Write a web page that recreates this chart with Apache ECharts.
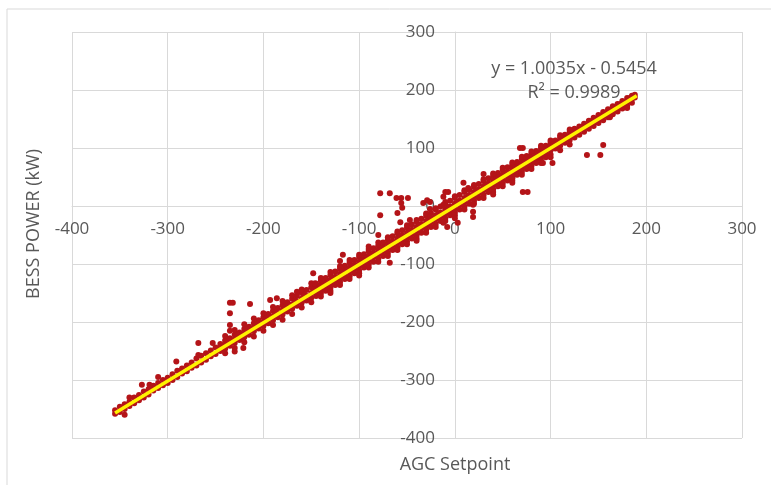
<!DOCTYPE html>
<html>
<head>
<meta charset="utf-8">
<script src="https://cdn.jsdelivr.net/npm/echarts@6/dist/echarts.min.js"></script>
<style>
html,body{margin:0;padding:0;background:#fff;}
#chart{width:771px;height:485px;}
</style>
</head>
<body>
<div id="chart"></div>
<script>
// ---- Data ----
var xTicks = [-400, -300, -200, -100, 0, 100, 200, 300];
var yTicks = [-400, -300, -200, -100, 0, 100, 200, 300];
var xTitle = 'AGC Setpoint';
var yTitle = 'BESS POWER (kW)';
var eqLine1 = 'y = 1.0035x - 0.5454';
var eqLine2 = 'R\u00B2 = 0.9989';

// main band of measured points [AGC setpoint, BESS power]
var bandLow = [
  [-355,-352],[-355,-358],[-350,-346],[-350,-355],[-345,-342],[-345,-350],[-340,-338],[-340,-345],
  [-335,-330],[-335,-340],[-330,-326],[-330,-335],[-325,-320],[-325,-330],[-320,-316],[-320,-325],
  [-315,-310],[-315,-318],[-310,-305],[-310,-314],[-305,-300],[-305,-309],[-300,-296],[-300,-305],
  [-295,-290],[-295,-300],[-290,-284],[-290,-295],[-285,-280],[-285,-289],[-280,-275],[-280,-285],
  [-275,-270],[-275,-279],[-270,-263],[-270,-275],[-265,-258],[-265,-270],[-260,-254],[-260,-265],
  [-255,-249],[-255,-259],[-250,-244],[-250,-255]
];
var bandMidLow = [
  [-245,-238],[-245,-244],[-245,-250],[-240,-232],[-240,-240],[-240,-246],[-235,-228],[-235,-236],[-235,-241],
  [-230,-222],[-230,-230],[-230,-236],[-225,-218],[-225,-226],[-225,-231],[-220,-212],[-220,-220],[-220,-226],
  [-215,-208],[-215,-215],[-215,-222],[-210,-202],[-210,-210],[-210,-216],[-205,-197],[-205,-205],[-205,-211],
  [-200,-192],[-200,-200],[-200,-207],[-195,-186],[-195,-195],[-195,-202],[-190,-181],[-190,-190],[-190,-197],
  [-185,-176],[-185,-185],[-185,-192],[-180,-171],[-180,-180],[-180,-187],[-175,-166],[-175,-175],[-175,-182],
  [-170,-160],[-170,-170],[-170,-177],[-165,-155],[-165,-165],[-165,-172],[-160,-150],[-160,-160],[-160,-167],
  [-155,-145],[-155,-155],[-155,-163],[-150,-140],[-150,-150],[-150,-158]
];
var bandCentre = [
  [-145,-134],[-145,-142],[-145,-149],[-145,-155],[-140,-129],[-140,-137],[-140,-144],[-140,-151],
  [-135,-124],[-135,-132],[-135,-139],[-135,-146],[-130,-119],[-130,-127],[-130,-134],[-130,-141],
  [-125,-113],[-125,-122],[-125,-129],[-125,-136],[-120,-108],[-120,-117],[-120,-124],[-120,-131],
  [-115,-103],[-115,-111],[-115,-119],[-115,-126],[-110,-98],[-110,-106],[-110,-113],[-110,-121],
  [-105,-93],[-105,-101],[-105,-108],[-105,-116],[-100,-88],[-100,-96],[-100,-103],[-100,-111],
  [-95,-83],[-95,-91],[-95,-98],[-95,-106],[-90,-78],[-90,-86],[-90,-93],[-90,-101],
  [-85,-73],[-85,-81],[-85,-88],[-85,-96],[-80,-68],[-80,-76],[-80,-83],[-80,-91],
  [-75,-63],[-75,-71],[-75,-78],[-75,-86],[-70,-58],[-70,-66],[-70,-73],[-70,-81],
  [-65,-52],[-65,-61],[-65,-68],[-65,-76],[-60,-47],[-60,-56],[-60,-63],[-60,-71],
  [-55,-42],[-55,-51],[-55,-58],[-55,-66],[-50,-37],[-50,-46],[-50,-53],[-50,-61],
  [-45,-32],[-45,-41],[-45,-48],[-45,-56],[-40,-27],[-40,-36],[-40,-43],[-40,-51],
  [-35,-22],[-35,-31],[-35,-38],[-35,-46],[-30,-17],[-30,-26],[-30,-33],[-30,-41],
  [-25,-12],[-25,-21],[-25,-28],[-25,-36],[-20,-6],[-20,-16],[-20,-23],[-20,-31],
  [-15,-1],[-15,-11],[-15,-18],[-15,-26],[-10,4],[-10,-6],[-10,-13],[-10,-21],
  [-5,9],[-5,-1],[-5,-8],[-5,-16],[0,14],[0,4],[0,-3],[0,-11],
  [5,19],[5,9],[5,2],[5,-6],[10,24],[10,14],[10,7],[10,-1],
  [15,28],[15,19],[15,12],[15,4],[20,33],[20,24],[20,17],[20,9],
  [25,38],[25,29],[25,22],[25,14],[30,43],[30,34],[30,27],[30,19],
  [35,48],[35,39],[35,32],[35,24],[40,52],[40,44],[40,37],[40,29],
  [45,57],[45,49],[45,42],[45,34],[50,62],[50,54],[50,47],[50,39],
  [55,67],[55,59],[55,52],[55,44],[60,71],[60,64],[60,56],[60,49],
  [65,76],[65,69],[65,61],[65,54],[70,81],[70,74],[70,66],[70,59],
  [75,86],[75,79],[75,71],[75,64],[80,90],[80,84],[80,76],[80,69],
  [85,95],[85,89],[85,81],[85,74],[90,100],[90,94],[90,86],[90,79],
  [95,104],[95,98],[95,91],[95,84],[100,109],[100,103],[100,96],[100,89]
];
var bandHigh = [
  [105,113],[105,106],[105,99],[110,118],[110,111],[110,104],[115,123],[115,116],[115,109],
  [120,128],[120,121],[120,114],[125,133],[125,126],[125,118],[130,137],[130,131],[130,123],
  [135,142],[135,136],[135,128],[140,147],[140,140],[140,133],[145,152],[145,145],[145,138],
  [150,157],[150,150],[150,143],[155,162],[155,155],[155,148],[160,167],[160,160],[160,153],
  [165,172],[165,165],[165,158],[170,176],[170,170],[170,163],[175,181],[175,175],[175,168],
  [180,186],[180,180],[180,173],[185,190],[185,185],[185,178],[188,192],[188,187]
];
// outer scatter of the band (wider spread in the middle range)
var bandEdge = [
  [-240,-224],[-240,-254],[-230,-214],[-230,-245],[-220,-204],[-220,-235],[-210,-194],[-210,-225],
  [-200,-185],[-200,-215],[-190,-174],[-190,-205],[-180,-164],[-180,-196],[-170,-154],[-170,-186],
  [-160,-144],[-160,-175],[-150,-133],[-150,-166],[-140,-124],[-140,-156],[-130,-114],[-130,-146],
  [-120,-104],[-120,-136],[-110,-93],[-110,-126],[-100,-84],[-100,-116],[-90,-74],[-90,-106],
  [-80,-63],[-80,-96],[-70,-54],[-70,-86],[-60,-44],[-60,-76],[-50,-33],[-50,-66],
  [-40,-24],[-40,-56],[-30,-13],[-30,-46],[-20,-4],[-20,-36],[-10,7],[-10,-26],
  [0,17],[0,-16],[10,27],[10,-6],[20,36],[20,4],[30,46],[30,14],[40,56],[40,24],
  [50,66],[50,34],[60,75],[60,44],[70,85],[70,54],[80,94],[80,64],[90,104],[90,74],
  [100,113],[100,84],[110,122],[110,96],[120,132],[120,106],
  [-237,-233],[-227,-222],[-217,-212],[-207,-203],[-197,-193],[-187,-183],[-177,-173],[-167,-163],
  [-157,-153],[-147,-144],[-137,-133],[-127,-124],[-117,-113],[-107,-104],[-97,-93],[-87,-84],
  [-77,-73],[-67,-64],[-57,-53],[-47,-44],[-37,-33],[-27,-24],[-17,-13],[-7,-4],[3,6],[13,16],
  [23,26],[33,36],[43,46],[53,56],[63,66],[73,76],[83,86],[93,96],[103,106],[113,116],[123,126],
  [133,136],[143,146],[153,156],[163,166],[173,176],[183,186]
];
var outliers = [
  [-235,-167],[-232,-167],[-214,-169],[-235,-185],[-235,-205],[-235,-215],[-235,-230],[-268,-236],
  [-253,-236],[-268,-257],[-291,-268],[-327,-308],[-319,-308],[-221,-228],[-221,-245],[-230,-251],
  [-193,-162],[-186,-159],[-165,-148],[-148,-116],[-146,-133],[-117,-84],[-80,-50],[-68,-98],
  [-8,-36],[-78,22],[-68,22],[-61,14],[-56,14],[-49,14],[-56,5],[-60,-12],[-55,-3],[-78,-16],
  [-57,-28],[-47,-24],[-33,5],[-29,10],[-26,7],[-26,-5],[-26,-18],[-26,-28],[-10,24],[-7,24],
  [-12,16],[-12,2],[-12,-15],[-12,-29],[9,40],[14,31],[19,2],[19,-10],[19,-19],[0,-21],[3,-29],
  [71,24],[76,24],[68,100],[71,100],[60,57],[60,48],[60,40],[92,74],[102,74],[138,88],[152,88],
  [155,105],[162,153],[165,165],[180,169],[-340,-330],[-310,-295],[-345,-360],[-100,-120],
  [-130,-150],[-90,-70],[-120,-95],[40,20],[30,55],[-40,-60]
];
// linear trend line endpoints (from the shown regression)
var trendX = [-355, 190];
var trendY = [-356.8, 190.1];

// ---- Chart ----
var points = bandLow.concat(bandMidLow, bandCentre, bandHigh, bandEdge, outliers);
var trend = trendX.map(function (x, i) { return [x, trendY[i]]; });

var FONT = '"Open Sans", "Liberation Sans", sans-serif';
var TXT = '#595959';
var GRID = '#D9D9D9';

var GRID_L = 72, GRID_R = 29, GRID_T = 32, GRID_B = 47;
var plotW = 771 - GRID_L - GRID_R, plotH = 485 - GRID_T - GRID_B;
// axes cross at zero (Excel style): shift each axis from its edge to the zero line
var xRange = xTicks[xTicks.length - 1] - xTicks[0];
var yRange = yTicks[yTicks.length - 1] - yTicks[0];
var xAxisShift = -plotH * (0 - yTicks[0]) / yRange;
var yAxisShift = -plotW * (0 - xTicks[0]) / xRange;

var chart = echarts.init(document.getElementById('chart'), null, {renderer: 'canvas'});
chart.setOption({
  animation: false,
  backgroundColor: '#ffffff',
  grid: {left: GRID_L, right: GRID_R, top: GRID_T, bottom: GRID_B, containLabel: false},
  xAxis: {
    type: 'value', position: 'bottom', offset: xAxisShift,
    min: xTicks[0], max: xTicks[xTicks.length - 1], interval: 100,
    axisLine: {show: true, onZero: false, lineStyle: {color: GRID, width: 1}},
    axisTick: {show: false},
    splitLine: {show: true, lineStyle: {color: GRID, width: 1}},
    axisLabel: {color: TXT, fontFamily: FONT, fontSize: 17, margin: 15}
  },
  yAxis: {
    type: 'value', position: 'left', offset: yAxisShift,
    min: yTicks[0], max: yTicks[yTicks.length - 1], interval: 100,
    axisLine: {show: true, onZero: false, lineStyle: {color: GRID, width: 1}},
    axisTick: {show: false},
    splitLine: {show: true, lineStyle: {color: GRID, width: 1}},
    axisLabel: {color: TXT, fontFamily: FONT, fontSize: 17, margin: 20}
  },
  graphic: [
    {type: 'rect', silent: true, z: -10, shape: {x: 7, y: 9, width: 800, height: 520},
     style: {fill: 'none', stroke: GRID, lineWidth: 1}},
    {type: 'text', x: 455, y: 465, z: 10,
     style: {text: xTitle, fill: TXT, font: '18px ' + FONT, textAlign: 'center', textVerticalAlign: 'middle'}},
    {type: 'text', x: 34, y: 224, rotation: Math.PI / 2, z: 10,
     style: {text: yTitle, fill: TXT, font: '18px ' + FONT, textAlign: 'center', textVerticalAlign: 'middle'}},
    {type: 'text', x: 574, y: 69, z: 10,
     style: {text: eqLine1, fill: TXT, font: '18px ' + FONT, textAlign: 'center', textVerticalAlign: 'middle'}},
    {type: 'text', x: 574, y: 93, z: 10,
     style: {text: eqLine2, fill: TXT, font: '18px ' + FONT, textAlign: 'center', textVerticalAlign: 'middle'}}
  ],
  series: [
    {type: 'scatter', data: points, symbol: 'circle', symbolSize: 6,
     itemStyle: {color: '#B41418', opacity: 1}, z: 2},
    {type: 'line', data: trend, symbol: 'none', z: 3,
     lineStyle: {color: '#FFF200', width: 3.5}}
  ]
});
</script>
</body>
</html>
